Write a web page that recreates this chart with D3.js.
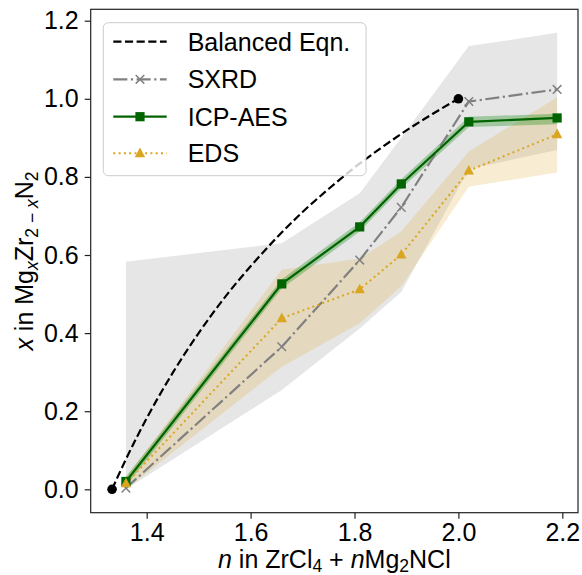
<!DOCTYPE html>
<html>
<head>
<meta charset="utf-8">
<script src="https://cdn.jsdelivr.net/npm/d3@7"></script>
<style>
  html, body { margin: 0; padding: 0; background: #fff; }
  svg { display: block; font-family: "Liberation Sans", Arial, sans-serif; }
</style>
</head>
<body>
<svg id="chart" width="582" height="575"></svg>
<script>
// ---- data ----
const nVals    = [1.36, 1.66, 1.81, 1.89, 2.02, 2.19];
const sxrd     = [0.003, 0.365, 0.587, 0.722, 0.993, 1.024];
const sxrdLow  = [0.0, 0.254, 0.412, 0.505, 0.82, 0.869];
const sxrdHigh = [0.583, 0.630, 0.758, 0.90, 1.135, 1.169];
const icp      = [0.02, 0.526, 0.672, 0.782, 0.941, 0.951];
const icpLow   = [0.008, 0.514, 0.660, 0.770, 0.928, 0.935];
const icpHigh  = [0.032, 0.538, 0.684, 0.794, 0.954, 0.962];
const eds      = [0.015, 0.438, 0.512, 0.601, 0.816, 0.909];
const edsLow   = [0.0, 0.314, 0.425, 0.52, 0.775, 0.811];
const edsHigh  = [0.03, 0.562, 0.591, 0.66, 0.865, 1.004];
// balanced equation curve
const balN = [1.3333, 1.36, 1.4, 1.45, 1.5, 1.55, 1.6, 1.65, 1.7, 1.75, 1.8, 1.85, 1.9, 1.95, 2.0];
const balX = [0.0, 0.077, 0.182, 0.298, 0.400, 0.491, 0.571, 0.644, 0.710, 0.769, 0.824, 0.873, 0.919, 0.961, 1.0];
const endN = [1.3333, 2.0];
const endX = [0.0, 1.0];
const xTicks = [1.4, 1.6, 1.8, 2.0, 2.2];
const yTicks = [0.0, 0.2, 0.4, 0.6, 0.8, 1.0, 1.2];
const legendLabels = ["Balanced Eqn.", "SXRD", "ICP-AES", "EDS"];

// ---- layout ----
const L = 90.7, R = 578, T = 9.3, B = 512.7;
const x = d3.scaleLinear().domain([1.2922, 2.2302]).range([L, R]);
const y = d3.scaleLinear().domain([-0.0599, 1.2292]).range([B, T]);
const svg = d3.select("#chart");
const FS = 25;

const GRAY = "#808080", GREEN = "#006400", GOLD = "#daa520";
const LW = 2.2;

const g = svg.append("g");
const clip = svg.append("clipPath").attr("id", "clip")
  .append("rect").attr("x", L).attr("y", T).attr("width", R - L).attr("height", B - T);
const plot = g.append("g").attr("clip-path", "url(#clip)");

function band(lo, hi) {
  return d3.area().x((d, i) => x(nVals[i])).y0((d, i) => y(lo[i])).y1((d, i) => y(hi[i]))(nVals);
}
plot.append("path").attr("d", band(sxrdLow, sxrdHigh)).attr("fill", GRAY).attr("fill-opacity", 0.2);
plot.append("path").attr("d", band(edsLow, edsHigh)).attr("fill", GOLD).attr("fill-opacity", 0.2);
plot.append("path").attr("d", band(icpLow, icpHigh)).attr("fill", "green").attr("fill-opacity", 0.3);

// balanced eqn dashed
plot.append("path")
  .attr("d", d3.line().x((d, i) => x(balN[i])).y(d => y(d)).curve(d3.curveMonotoneX)(balX))
  .attr("fill", "none").attr("stroke", "#000").attr("stroke-width", LW)
  .attr("stroke-dasharray", `${3.7*LW},${1.6*LW}`);

const line = vals => d3.line().x((d, i) => x(nVals[i])).y(d => y(d))(vals);

// SXRD
plot.append("path").attr("d", line(sxrd)).attr("fill", "none").attr("stroke", GRAY)
  .attr("stroke-width", LW).attr("stroke-dasharray", `${6.4*LW},${1.6*LW},${1*LW},${1.6*LW}`);
// ICP
plot.append("path").attr("d", line(icp)).attr("fill", "none").attr("stroke", GREEN)
  .attr("stroke-width", LW);
// EDS
plot.append("path").attr("d", line(eds)).attr("fill", "none").attr("stroke", GOLD)
  .attr("stroke-width", 2).attr("stroke-dasharray", "2,3.3");

function drawX(sel, cx, cy, s) {
  sel.append("path").attr("d", `M${cx-s},${cy-s}L${cx+s},${cy+s}M${cx-s},${cy+s}L${cx+s},${cy-s}`)
    .attr("stroke", GRAY).attr("stroke-width", 1.5).attr("fill", "none");
}
function drawSq(sel, cx, cy, s) {
  sel.append("rect").attr("x", cx - s).attr("y", cy - s).attr("width", 2*s).attr("height", 2*s)
    .attr("fill", GREEN);
}
function drawTri(sel, cx, cy, s) {
  sel.append("path").attr("d", `M${cx},${cy-s*1.1}L${cx+s},${cy+s*0.75}L${cx-s},${cy+s*0.75}Z`)
    .attr("fill", GOLD);
}

nVals.forEach((n, i) => drawX(plot, x(n), y(sxrd[i]), 4.3));
nVals.forEach((n, i) => drawSq(plot, x(n), y(icp[i]), 4.6));
nVals.forEach((n, i) => drawTri(plot, x(n), y(eds[i]), 5.2));
endN.forEach((n, i) => plot.append("circle").attr("cx", x(n)).attr("cy", y(endX[i])).attr("r", 4.8).attr("fill", "#000"));

// ---- axes ----
const xAxis = d3.axisBottom(x).tickValues(xTicks).tickFormat(d3.format(".1f")).tickSize(6).tickPadding(4);
const yAxis = d3.axisLeft(y).tickValues(yTicks).tickFormat(d3.format(".1f")).tickSize(6).tickPadding(6);
const gx = g.append("g").attr("transform", `translate(0,${B})`).call(xAxis);
const gy = g.append("g").attr("transform", `translate(${L},0)`).call(yAxis);
[gx, gy].forEach(a => {
  a.select(".domain").remove();
  a.selectAll("line").attr("stroke", "#222").attr("stroke-width", 1.2);
  a.selectAll("text").attr("font-size", FS).attr("fill", "#000")
    .attr("font-family", "'Liberation Sans', Arial, sans-serif");
});
gx.selectAll("text").attr("dy", "0.72em");
// frame
g.append("rect").attr("x", L).attr("y", T).attr("width", R - L).attr("height", B - T)
  .attr("fill", "none").attr("stroke", "#222").attr("stroke-width", 1.2);

// axis titles
const SUB = 4;
const xt = g.append("text").attr("x", (L + R) / 2).attr("y", 567.5).attr("text-anchor", "middle")
  .attr("font-size", FS).attr("fill", "#000");
xt.append("tspan").attr("font-style", "italic").text("n");
xt.append("tspan").text(" in ZrCl");
xt.append("tspan").attr("font-size", FS * 0.7).attr("dy", SUB).text("4");
xt.append("tspan").attr("dy", -SUB).text(" + ");
xt.append("tspan").attr("font-style", "italic").text("n");
xt.append("tspan").text("Mg");
xt.append("tspan").attr("font-size", FS * 0.7).attr("dy", SUB).text("2");
xt.append("tspan").attr("dy", -SUB).text("NCl");

const yt = g.append("text").attr("transform", `translate(33,${(T + B) / 2}) rotate(-90)`)
  .attr("text-anchor", "middle").attr("font-size", FS).attr("fill", "#000");
yt.append("tspan").attr("font-style", "italic").text("x");
yt.append("tspan").text(" in Mg");
yt.append("tspan").attr("font-size", FS * 0.7).attr("font-style", "italic").attr("dy", 5).text("x");
yt.append("tspan").attr("dy", -5).text("Zr");
yt.append("tspan").attr("font-size", FS * 0.7).attr("dy", 5).text("2 − ");
yt.append("tspan").attr("font-size", FS * 0.7).attr("font-style", "italic").text("x");
yt.append("tspan").attr("dy", -5).text("N");
yt.append("tspan").attr("font-size", FS * 0.7).attr("dy", 5).text("2");

// ---- legend ----
const lg = g.append("g");
lg.append("rect").attr("x", 103.3).attr("y", 22.7).attr("width", 262.7).attr("height", 153)
  .attr("rx", 5).attr("fill", "#fff").attr("fill-opacity", 0.8).attr("stroke", "#cccccc").attr("stroke-width", 1);
const rows = [41.7, 79.3, 116.7, 153.3];
const hx0 = 113.3, hx1 = 166.7, hxc = (hx0 + hx1) / 2;
const styles = [
  { stroke: "#000", w: LW, dash: `${3.7*LW},${1.6*LW}` },
  { stroke: GRAY, w: LW, dash: `${6.4*LW},${1.6*LW},${1*LW},${1.6*LW}` },
  { stroke: GREEN, w: LW, dash: null },
  { stroke: GOLD, w: 2, dash: "2,3.3" }
];
legendLabels.forEach((lab, i) => {
  const cy = rows[i];
  const s = styles[i];
  const ln = lg.append("line").attr("x1", hx0).attr("x2", hx1).attr("y1", cy).attr("y2", cy)
    .attr("stroke", s.stroke).attr("stroke-width", s.w);
  if (s.dash) ln.attr("stroke-dasharray", s.dash);
  if (i === 1) drawX(lg, hxc, cy, 4.3);
  if (i === 2) drawSq(lg, hxc, cy, 4.6);
  if (i === 3) drawTri(lg, hxc, cy, 5.2);
  lg.append("text").attr("x", 187.7).attr("y", cy + 9).attr("font-size", FS).attr("fill", "#000").text(lab);
});
</script>
</body>
</html>
